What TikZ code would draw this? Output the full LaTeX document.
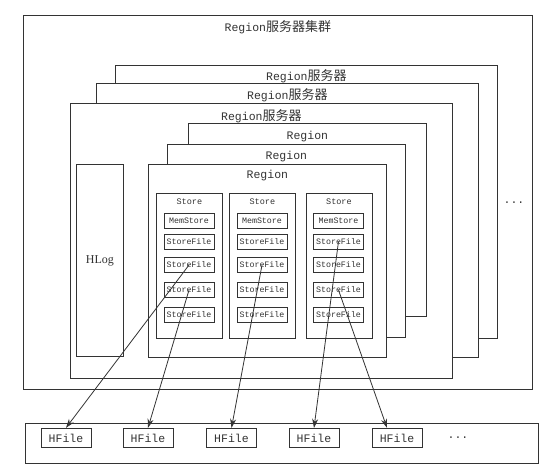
\documentclass[tikz,border=0pt]{standalone}
\usepackage{fontspec}
\setmainfont{Liberation Serif}
\setmonofont{Liberation Mono}
\newfontfamily\cjk{Noto Sans CJK SC}
\usetikzlibrary{positioning,arrows.meta}
\newcommand{\zh}[1]{{\cjk\fontsize{13}{15}\selectfont #1}}
\colorlet{ink}{black!80}

\begin{document}
\begin{tikzpicture}[x=1pt,y=-1pt,>={Stealth[length=9pt,width=6pt]},
        frame/.style={draw=ink, fill=white, line width=0.8pt, anchor=north west, inner sep=0pt},
        ttl/.style={font=\ttfamily\fontsize{11.5}{13}\selectfont, text=ink, inner sep=0pt},
        small/.style={font=\ttfamily\fontsize{8.5}{10}\selectfont, text=ink, inner sep=0pt},
        filebox/.style={draw=ink, fill=white, line width=0.8pt, inner sep=0pt,
            minimum width=50pt, minimum height=15pt, font=\ttfamily\fontsize{8.3}{10}\selectfont, text=ink},
        hfbox/.style={draw=ink, fill=white, line width=0.8pt, inner sep=0pt,
            minimum width=50pt, minimum height=19.5pt, font=\ttfamily\fontsize{11.5}{13}\selectfont, text=ink},
        feed/.style={->, draw=ink, line width=0.8pt}]

\fill[white] (0,0) rectangle (560,471);
\useasboundingbox (0,0) rectangle (560,471);

% cluster and servers
\node[frame, minimum width=509pt, minimum height=374pt] (cluster) at (23,15) {};
\node[ttl] (clustert) at ([yshift=-12pt]cluster.north) {Region\zh{服务器集群}};

\node[frame, minimum width=382pt, minimum height=273pt] (srv1) at (115,65) {};
\node[ttl] (srv1t) at ([yshift=-11pt]srv1.north) {Region\zh{服务器}};
\node[frame, minimum width=382pt, minimum height=274pt] (srv2) at (96,83) {};
\node[ttl] (srv2t) at ([yshift=-12.5pt]srv2.north) {Region\zh{服务器}};
\node[frame, minimum width=382pt, minimum height=275pt] (srv3) at (70,103) {};
\node[ttl] (srv3t) at ([yshift=-13pt]srv3.north) {Region\zh{服务器}};

\node[ttl] (more) at (514,203) {...};

% log
\node[frame, minimum width=47pt, minimum height=192pt,
      font=\rmfamily\fontsize{12}{14}\selectfont, text=ink] (hlog) at (76,164) {HLog};

% regions
\node[frame, minimum width=238pt, minimum height=193pt] (reg1) at (188,123) {};
\node[ttl] (reg1t) at ([yshift=-13.5pt]reg1.north) {Region};
\node[frame, minimum width=238pt, minimum height=193pt] (reg2) at (167,144) {};
\node[ttl] (reg2t) at ([yshift=-13pt]reg2.north) {Region};
\node[frame, minimum width=238pt, minimum height=193pt] (reg3) at (148,164) {};
\node[ttl] (reg3t) at ([yshift=-12pt]reg3.north) {Region};

% stores
\node[frame, minimum width=66pt, minimum height=145pt] (st1) at (156,193) {};
\node[small] (st1t) at ([yshift=-9pt]st1.north) {Store};
\node[filebox] (m1) at (189,220.5) {MemStore};
\node[filebox] (f11) at (189,241.5) {StoreFile};
\node[filebox] (f12) at (189,265) {StoreFile};
\node[filebox] (f13) at (189,290) {StoreFile};
\node[filebox] (f14) at (189,314.5) {StoreFile};

\node[frame, minimum width=66pt, minimum height=145pt] (st2) at (229,193) {};
\node[small] (st2t) at ([yshift=-9pt]st2.north) {Store};
\node[filebox] (m2) at (262,220.5) {MemStore};
\node[filebox] (f21) at (262,241.5) {StoreFile};
\node[filebox] (f22) at (262,265) {StoreFile};
\node[filebox] (f23) at (262,290) {StoreFile};
\node[filebox] (f24) at (262,314.5) {StoreFile};

\node[frame, minimum width=66pt, minimum height=145pt] (st3) at (305.5,193) {};
\node[small] (st3t) at ([yshift=-9pt]st3.north) {Store};
\node[filebox] (m3) at (338.5,220.5) {MemStore};
\node[filebox] (f31) at (338.5,241.5) {StoreFile};
\node[filebox] (f32) at (338.5,265) {StoreFile};
\node[filebox] (f33) at (338.5,290) {StoreFile};
\node[filebox] (f34) at (338.5,314.5) {StoreFile};

% hdfs files
\node[frame, minimum width=513pt, minimum height=40pt] (hdfs) at (25,423) {};
\node[hfbox] (hf1) at (66,438) {HFile};
\node[hfbox] (hf2) at (148,438) {HFile};
\node[hfbox] (hf3) at (231.5,438) {HFile};
\node[hfbox] (hf4) at (314,438) {HFile};
\node[hfbox] (hf5) at (397,438) {HFile};
\node[ttl] (hfmore) at (458,438) {...};

\draw[feed] (f12.center) -- (hf1.north);
\draw[feed] (f13.center) -- (hf2.north);
\draw[feed] (f22.center) -- (hf3.north);
\draw[feed] (f31.center) -- (hf4.north);
\draw[feed] (f33.center) -- ([xshift=-10pt]hf5.north);

\end{tikzpicture}
\end{document}
